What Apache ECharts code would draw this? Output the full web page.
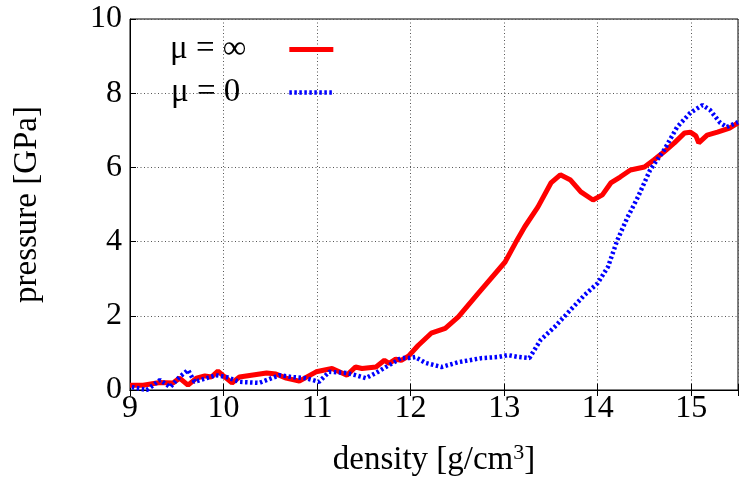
<!DOCTYPE html>
<html>
<head>
<meta charset="utf-8">
<title>pressure vs density</title>
<script src="https://cdn.jsdelivr.net/npm/echarts@6/dist/echarts.min.js"></script>
<style>
    html, body { margin: 0; padding: 0; background: #fff; }
    #chart { width: 741px; height: 482px; }
</style>
</head>
<body>
<div id="chart"></div>
<script>
    // μ = ∞ curve
    var rhoInf = [9.0, 9.14, 9.32, 9.46, 9.53, 9.62, 9.71, 9.8, 9.87, 9.94, 9.99, 10.09, 10.17, 10.46, 10.56, 10.67, 10.81, 10.99, 11.16, 11.32, 11.41, 11.48, 11.63, 11.72, 11.77, 11.84, 11.9, 11.98, 12.08, 12.22, 12.37, 12.51, 12.72, 13.01, 13.12, 13.22, 13.36, 13.5, 13.6, 13.71, 13.82, 13.95, 14.05, 14.14, 14.24, 14.35, 14.5, 14.6, 14.71, 14.82, 14.93, 14.99, 15.05, 15.08, 15.17, 15.28, 15.41, 15.5];
    var pInf = [0.13, 0.13, 0.2, 0.19, 0.32, 0.13, 0.32, 0.38, 0.35, 0.51, 0.4, 0.19, 0.35, 0.46, 0.43, 0.32, 0.24, 0.49, 0.58, 0.4, 0.62, 0.58, 0.62, 0.8, 0.72, 0.83, 0.8, 0.92, 1.2, 1.53, 1.66, 1.97, 2.6, 3.45, 3.96, 4.4, 4.93, 5.58, 5.8, 5.66, 5.34, 5.12, 5.26, 5.58, 5.74, 5.93, 6.01, 6.2, 6.42, 6.66, 6.93, 6.95, 6.85, 6.66, 6.87, 6.95, 7.06, 7.2];
    // μ = 0 curve
    var rho0 = [9.02, 9.18, 9.32, 9.43, 9.53, 9.62, 9.69, 9.82, 9.92, 10.03, 10.17, 10.38, 10.6, 10.73, 10.88, 11.02, 11.13, 11.31, 11.41, 11.52, 11.63, 11.77, 11.9, 11.98, 12.05, 12.16, 12.33, 12.51, 12.76, 12.94, 13.04, 13.15, 13.27, 13.39, 13.54, 13.71, 13.86, 14.0, 14.11, 14.21, 14.32, 14.43, 14.56, 14.71, 14.85, 14.99, 15.12, 15.2, 15.31, 15.38, 15.5];
    var p0 = [0.08, 0.0, 0.27, 0.08, 0.35, 0.54, 0.22, 0.32, 0.4, 0.35, 0.22, 0.19, 0.4, 0.35, 0.32, 0.22, 0.49, 0.46, 0.4, 0.32, 0.46, 0.67, 0.86, 0.86, 0.89, 0.73, 0.62, 0.75, 0.86, 0.89, 0.94, 0.89, 0.86, 1.35, 1.7, 2.16, 2.56, 2.88, 3.32, 4.04, 4.66, 5.2, 5.93, 6.47, 7.09, 7.47, 7.68, 7.55, 7.2, 7.09, 7.22];

    var xTicks = [9, 10, 11, 12, 13, 14, 15];
    var yTicks = [0, 2, 4, 6, 8, 10];

    var serif = '"Liberation Serif", "DejaVu Serif", serif';

    function pairs(xs, ys) {
        var out = [];
        for (var i = 0; i < xs.length; i++) {
            out.push([xs[i], ys[i]]);
        }
        return out;
    }

    var chart = echarts.init(document.getElementById('chart'));

    var gridLine = { show: true, lineStyle: { color: '#555', type: [1, 2.5], width: 1 } };

    chart.setOption({
        animation: false,
        grid: { left: 130, right: 2, top: 19, bottom: 92, show: true, borderColor: '#000', borderWidth: 1 },
        legend: {
            orient: 'vertical',
            left: 165,
            top: 28,
            align: 'right',
            itemWidth: 44,
            itemHeight: 10,
            itemGap: 10,
            itemStyle: { opacity: 0 },
            textStyle: { fontFamily: serif, fontSize: 33, color: '#000' },
            data: [{
                name: 'μ = ∞',
                textStyle: { padding: [0, 38, 0, 0] },
                lineStyle: { color: '#ff0000', width: 5, type: 'solid' }
            }, {
                name: 'μ = 0',
                textStyle: { padding: [0, 44, 0, 0] },
                lineStyle: { color: '#0000ff', width: 4.5, type: [2.5, 2.5] }
            }]
        },
        xAxis: [{
            type: 'value',
            min: 9,
            max: 15.5,
            interval: 1,
            name: 'density [g/cm{sup|3}]',
            nameLocation: 'middle',
            nameGap: 52,
            nameTextStyle: {
                fontFamily: serif, fontSize: 33, color: '#000',
                rich: { sup: { fontFamily: serif, fontSize: 22, verticalAlign: 'top', padding: [0, 0, 14, 0] } }
            },
            axisLine: { show: true, onZero: false, lineStyle: { color: '#000', width: 1 } },
            axisTick: { inside: true, length: 6, lineStyle: { color: '#000' } },
            axisLabel: {
                fontFamily: serif, fontSize: 32, color: '#000', margin: 3,
                formatter: function (v) { return xTicks.indexOf(v) >= 0 ? String(v) : ''; }
            },
            splitLine: gridLine
        }, {
            type: 'value',
            position: 'top',
            min: 9,
            max: 15.5,
            interval: 1,
            axisLine: { show: true, lineStyle: { color: '#000' } },
            axisTick: { show: true, inside: true, length: 6, lineStyle: { color: '#000' } },
            axisLabel: { show: false },
            splitLine: { show: false }
        }],
        yAxis: {
            type: 'value',
            min: 0,
            max: 10,
            interval: 2,
            name: 'pressure [GPa]',
            nameLocation: 'middle',
            nameGap: 86,
            nameTextStyle: { fontFamily: serif, fontSize: 33, color: '#000' },
            axisLine: { show: true, lineStyle: { color: '#000', width: 1 } },
            axisTick: { inside: true, length: 6, lineStyle: { color: '#000' } },
            axisLabel: {
                fontFamily: serif, fontSize: 32, color: '#000', margin: 8,
                formatter: function (v) { return yTicks.indexOf(v) >= 0 ? String(v) : ''; }
            },
            splitLine: gridLine
        },
        series: [{
            name: 'μ = ∞',
            type: 'line',
            symbol: 'none',
            z: 3,
            lineStyle: { color: '#ff0000', width: 5 },
            itemStyle: { color: '#ff0000' },
            data: pairs(rhoInf, pInf)
        }, {
            name: 'μ = 0',
            type: 'line',
            symbol: 'none',
            z: 4,
            lineStyle: { color: '#0000ff', width: 4.5, type: [2.5, 2.5] },
            itemStyle: { color: '#0000ff' },
            data: pairs(rho0, p0)
        }]
    });
</script>
</body>
</html>
